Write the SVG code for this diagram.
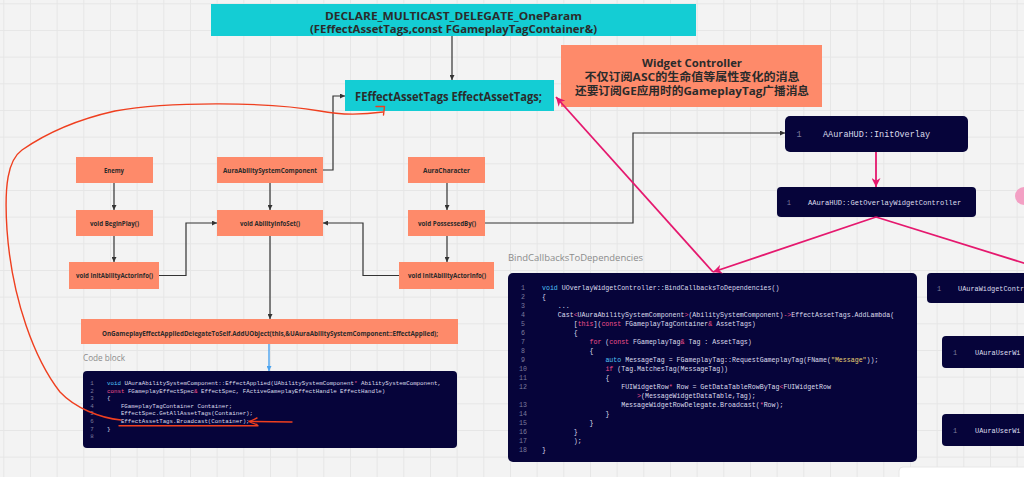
<svg xmlns="http://www.w3.org/2000/svg" width="1024" height="477" viewBox="0 0 1024 477">
<defs>
<pattern id="grid" x="3.3" y="3.3" width="26.667" height="26.667" patternUnits="userSpaceOnUse">
<path d="M0,0.5 H26.667 M0.5,0 V26.667" fill="none" stroke="#e6e6e6" stroke-width="1"/>
</pattern>
<marker id="ad" viewBox="0 0 10 10" refX="10" refY="5" markerWidth="5" markerHeight="5" markerUnits="userSpaceOnUse" orient="auto"><path d="M0,0 L10,5 L0,10 z" fill="#333"/></marker>
<marker id="ap" viewBox="0 0 10 10" refX="10" refY="5" markerWidth="9" markerHeight="9" markerUnits="userSpaceOnUse" orient="auto"><path d="M0,0 L10,5 L0,10 L3,5 z" fill="#e5186e"/></marker>
<marker id="ab" viewBox="0 0 10 10" refX="10" refY="5" markerWidth="5" markerHeight="5" markerUnits="userSpaceOnUse" orient="auto"><path d="M0,0 L10,5 L0,10 z" fill="#4aa3f0"/></marker>
</defs>
<style>
.orange{fill:#fe8a6a}
.teal{fill:#14cdd4}
.dark{fill:#06043a}
.lbl{font-family:"Open Sans","Liberation Sans","Noto Sans CJK SC",sans-serif;font-weight:700;fill:#2b2b2b;text-anchor:middle}
.nl{font-size:7px}
.big{font-size:11px}
.code{font-family:"Liberation Mono","DejaVu Sans Mono",monospace;fill:#dcdcec}
.c1{font-size:5.8px}
.c2{font-size:6.6px}
.ln{fill:#7c7c9c;text-anchor:middle}
.kw{fill:#4fc3f7}
.pk{fill:#f0508c}
.str{fill:#e8d174}
.cap{font-family:"Open Sans","Liberation Sans",sans-serif;font-size:9.5px;fill:#8c8c8c}
.conn{fill:none;stroke:#333;stroke-width:1.2}
.pink{fill:none;stroke:#e5186e;stroke-width:1.8}
.red{fill:none;stroke:#ef3f1f;stroke-width:1.4;stroke-linecap:round;stroke-linejoin:round}
</style>
<rect x="0" y="0" width="1024" height="477" fill="#f3f3f3"/>
<rect x="0" y="0" width="1024" height="477" fill="url(#grid)"/>

<g id="declare-delegate">
<rect class="teal" x="211" y="4" width="485" height="32"/>
<text class="lbl big" x="453.5" y="19.5" textLength="257" lengthAdjust="spacingAndGlyphs">DECLARE_MULTICAST_DELEGATE_OneParam</text>
<text class="lbl big" x="453.5" y="32.5" textLength="287" lengthAdjust="spacingAndGlyphs">(FEffectAssetTags,const FGameplayTagContainer&amp;)</text>
</g>
<g id="effect-asset-tags">
<rect class="teal" x="345" y="80" width="209" height="31"/>
<text class="lbl" x="448.5" y="100.5" font-size="12" textLength="187" lengthAdjust="spacingAndGlyphs">FEffectAssetTags EffectAssetTags;</text>
</g>
<g id="widget-controller-note">
<rect class="orange" x="561" y="45" width="261" height="62"/>
<text class="lbl big" x="692" y="67" textLength="100" lengthAdjust="spacingAndGlyphs">Widget Controller</text>
<text class="lbl big" x="692" y="81" textLength="215" lengthAdjust="spacingAndGlyphs">不仅订阅ASC的生命值等属性变化的消息</text>
<text class="lbl big" x="692" y="95" textLength="234" lengthAdjust="spacingAndGlyphs">还要订阅GE应用时的GameplayTag广播消息</text>
</g>

<g id="enemy"><rect class="orange" x="76" y="157" width="77" height="26"/><text class="lbl nl" x="114" y="172.5" textLength="20" lengthAdjust="spacingAndGlyphs">Enemy</text></g>
<g id="asc"><rect class="orange" x="217" y="157" width="106" height="26"/><text class="lbl nl" x="270" y="172.5" textLength="94" lengthAdjust="spacingAndGlyphs">AuraAbilitySystemComponent</text></g>
<g id="aura-character"><rect class="orange" x="408" y="157" width="77" height="26"/><text class="lbl nl" x="446.5" y="172.5" textLength="47" lengthAdjust="spacingAndGlyphs">AuraCharacter</text></g>
<g id="begin-play"><rect class="orange" x="76" y="210" width="77" height="26"/><text class="lbl nl" x="114.5" y="225.5" textLength="49" lengthAdjust="spacingAndGlyphs">void BeginPlay()</text></g>
<g id="ability-info-set"><rect class="orange" x="217" y="210" width="106" height="26"/><text class="lbl nl" x="270" y="225.5" textLength="60" lengthAdjust="spacingAndGlyphs">void AbilityInfoSet()</text></g>
<g id="possessed-by"><rect class="orange" x="408" y="210" width="77" height="26"/><text class="lbl nl" x="447" y="225.5" textLength="58" lengthAdjust="spacingAndGlyphs">void PossessedBy()</text></g>
<g id="init-actor-info-enemy"><rect class="orange" x="69" y="262" width="90" height="27"/><text class="lbl nl" x="114.5" y="278" textLength="77" lengthAdjust="spacingAndGlyphs">void InitAbilityActorInfo()</text></g>
<g id="init-actor-info-character"><rect class="orange" x="399" y="262" width="95" height="27"/><text class="lbl nl" x="447" y="278" textLength="78" lengthAdjust="spacingAndGlyphs">void InitAbilityActorInfo()</text></g>
<g id="add-uobject"><rect class="orange" x="81" y="319" width="377" height="25"/><text class="lbl nl" x="270" y="335.5" textLength="336" lengthAdjust="spacingAndGlyphs">OnGameplayEffectAppliedDelegateToSelf.AddUObject(this,&amp;UAuraAbilitySystemComponent::EffectApplied);</text></g>

<g id="effect-applied-code">
<text class="cap" x="83" y="361" textLength="42" lengthAdjust="spacingAndGlyphs">Code block</text>
<rect class="dark" x="83" y="371" width="374" height="77" rx="4"/>
<g class="code c1">
<text class="ln" x="92" y="385">1</text>
<text class="ln" x="92" y="392.6">2</text>
<text class="ln" x="92" y="400.2">3</text>
<text class="ln" x="92" y="407.8">4</text>
<text class="ln" x="92" y="415.4">5</text>
<text class="ln" x="92" y="423">6</text>
<text class="ln" x="92" y="430.6">7</text>
<text class="ln" x="92" y="438.2">8</text>
<text x="107" y="385"><tspan class="kw">void</tspan> UAuraAbilitySystemComponent::EffectApplied(UAbilitySystemComponent<tspan class="pk">*</tspan> AbilitySystemComponent,</text>
<text x="107" y="392.6"><tspan class="pk">const</tspan> FGameplayEffectSpec<tspan class="pk">&amp;</tspan> EffectSpec, FActiveGameplayEffectHandle EffectHandle)</text>
<text x="107" y="400.2">{</text>
<text x="120.9" y="407.8">FGameplayTagContainer Container;</text>
<text x="120.9" y="415.4">EffectSpec.GetAllAssetTags(Container);</text>
<text x="120.9" y="423">EffectAssetTags.Broadcast(Container);</text>
<text x="107" y="430.6">}</text>
</g>
</g>

<g id="bind-callbacks-code">
<text class="cap" x="508" y="261" textLength="135" lengthAdjust="spacingAndGlyphs">BindCallbacksToDependencies</text>
<rect class="dark" x="508" y="273" width="409" height="189" rx="5"/>
<g class="code c2">
<text class="ln" x="523" y="289.5">1</text>
<text class="ln" x="523" y="298.5">2</text>
<text class="ln" x="523" y="307.5">3</text>
<text class="ln" x="523" y="316.5">4</text>
<text class="ln" x="523" y="325.5">5</text>
<text class="ln" x="523" y="334.5">6</text>
<text class="ln" x="523" y="343.5">7</text>
<text class="ln" x="523" y="352.5">8</text>
<text class="ln" x="523" y="361.5">9</text>
<text class="ln" x="523" y="370.5">10</text>
<text class="ln" x="523" y="379.5">11</text>
<text class="ln" x="523" y="388.5">12</text>
<text class="ln" x="523" y="406.5">13</text>
<text class="ln" x="523" y="415.5">14</text>
<text class="ln" x="523" y="424.5">15</text>
<text class="ln" x="523" y="433.5">16</text>
<text class="ln" x="523" y="442.5">17</text>
<text class="ln" x="523" y="451.5">18</text>
<text x="542" y="289.5"><tspan class="kw">void</tspan> UOverlayWidgetController::BindCallbacksToDependencies()</text>
<text x="542" y="298.5">{</text>
<text x="557.8" y="307.5">...</text>
<text x="557.8" y="316.5">Cast<tspan class="pk">&lt;</tspan>UAuraAbilitySystemComponent<tspan class="pk">&gt;</tspan>(AbilitySystemComponent)<tspan class="pk">-&gt;</tspan>EffectAssetTags.AddLambda(</text>
<text x="573.7" y="325.5">[<tspan class="pk">this</tspan>](<tspan class="pk">const</tspan> FGameplayTagContainer<tspan class="pk">&amp;</tspan> AssetTags)</text>
<text x="573.7" y="334.5">{</text>
<text x="589.5" y="343.5"><tspan class="pk">for</tspan> (<tspan class="pk">const</tspan> FGameplayTag<tspan class="pk">&amp;</tspan> Tag : AssetTags)</text>
<text x="589.5" y="352.5">{</text>
<text x="605.4" y="361.5"><tspan class="kw">auto</tspan> MessageTag = FGameplayTag::RequestGameplayTag(FName(<tspan class="str">"Message"</tspan>));</text>
<text x="605.4" y="370.5"><tspan class="pk">if</tspan> (Tag.MatchesTag(MessageTag))</text>
<text x="605.4" y="379.5">{</text>
<text x="621.2" y="388.5">FUIWidgetRow<tspan class="pk">*</tspan> Row = GetDataTableRowByTag<tspan class="pk">&lt;</tspan>FUIWidgetRow</text>
<text x="637" y="397.5"><tspan class="pk">&gt;</tspan>(MessageWidgetDataTable,Tag);</text>
<text x="621.2" y="406.5">MessageWidgetRowDelegate.Broadcast(<tspan class="pk">*</tspan>Row);</text>
<text x="605.4" y="415.5">}</text>
<text x="589.5" y="424.5">}</text>
<text x="573.7" y="433.5">}</text>
<text x="573.7" y="442.5">);</text>
<text x="542" y="451.5">}</text>
</g>
</g>

<g id="init-overlay"><rect class="dark" x="785" y="116" width="183" height="36" rx="5"/><text class="code ln" x="799" y="137" font-size="8.5">1</text><text class="code" x="823" y="137" font-size="8.5">AAuraHUD::InitOverlay</text></g>
<g id="get-overlay-widget-controller"><rect class="dark" x="777" y="187" width="199" height="30" rx="4"/><text class="code ln" x="789" y="204.5" font-size="7.1">1</text><text class="code" x="808" y="204.5" font-size="7.1">AAuraHUD::GetOverlayWidgetController</text></g>
<g id="aura-widget-controller"><rect class="dark" x="927" y="273" width="110" height="30" rx="4"/><text class="code ln" x="939" y="290.5" font-size="6.9">1</text><text class="code" x="958" y="290.5" font-size="6.9">UAuraWidgetContr</text></g>
<g id="aura-user-widget-1"><rect class="dark" x="942" y="336" width="100" height="32" rx="4"/><text class="code ln" x="955" y="354.5" font-size="6.9">1</text><text class="code" x="975" y="354.5" font-size="6.9">UAuraUserWi</text></g>
<g id="aura-user-widget-2"><rect class="dark" x="942" y="414" width="100" height="32" rx="4"/><text class="code ln" x="955" y="432.5" font-size="6.9">1</text><text class="code" x="975" y="432.5" font-size="6.9">UAuraUserWi</text></g>

<g id="connectors">
<path class="conn" d="M452,36 V80" marker-end="url(#ad)"/>
<path class="conn" d="M114,183 V210" marker-end="url(#ad)"/>
<path class="conn" d="M114,236 V262" marker-end="url(#ad)"/>
<path class="conn" d="M159,275.5 H186 V223 H217" marker-end="url(#ad)"/>
<path class="conn" d="M270,183 V210" marker-end="url(#ad)"/>
<path class="conn" d="M323,170 H333 V96 H345" marker-end="url(#ad)"/>
<path class="conn" d="M447,183 V210" marker-end="url(#ad)"/>
<path class="conn" d="M447,236 V262" marker-end="url(#ad)"/>
<path class="conn" d="M399,275.5 H363 V223 H323" marker-end="url(#ad)"/>
<path class="conn" d="M485,223 H633 V133 H785" marker-end="url(#ad)"/>
<path class="conn" d="M270,236 V319" marker-end="url(#ad)"/>
<path fill="none" stroke="#4aa3f0" stroke-width="1.4" d="M269,344 V371" marker-end="url(#ab)"/>
<path class="pink" d="M876,152 V187" marker-end="url(#ap)"/>
<path class="pink" d="M876,217 L713,272" marker-end="url(#ap)"/>
<path class="pink" d="M876,217 L1030,265"/>
<path class="pink" d="M713,272 L556,97" marker-end="url(#ap)"/>
<path class="red" d="M121,420 C100,418 75,408 60,392 C35,360 12,300 7,230 C4,185 8,160 22,150 C45,134 75,120 115,111 C170,101 270,102 320,111 C345,116 368,114 383,112"/>
<path class="red" d="M376,106.5 L384.5,106.5 L383.5,115"/>
<path class="red" d="M119,425.8 H258"/>
<path class="red" d="M292,422 L250,421.5"/>
<path class="red" d="M257,418 Q252,420.5 249,421.5 Q252,423.2 257,424.5"/>
</g>

<circle cx="1024" cy="196" r="9" fill="#f3a0c4"/>
<rect x="899" y="467" width="130" height="16" rx="4" fill="#ffffff" stroke="#e2e2e2" stroke-width="0.8"/>
</svg>
